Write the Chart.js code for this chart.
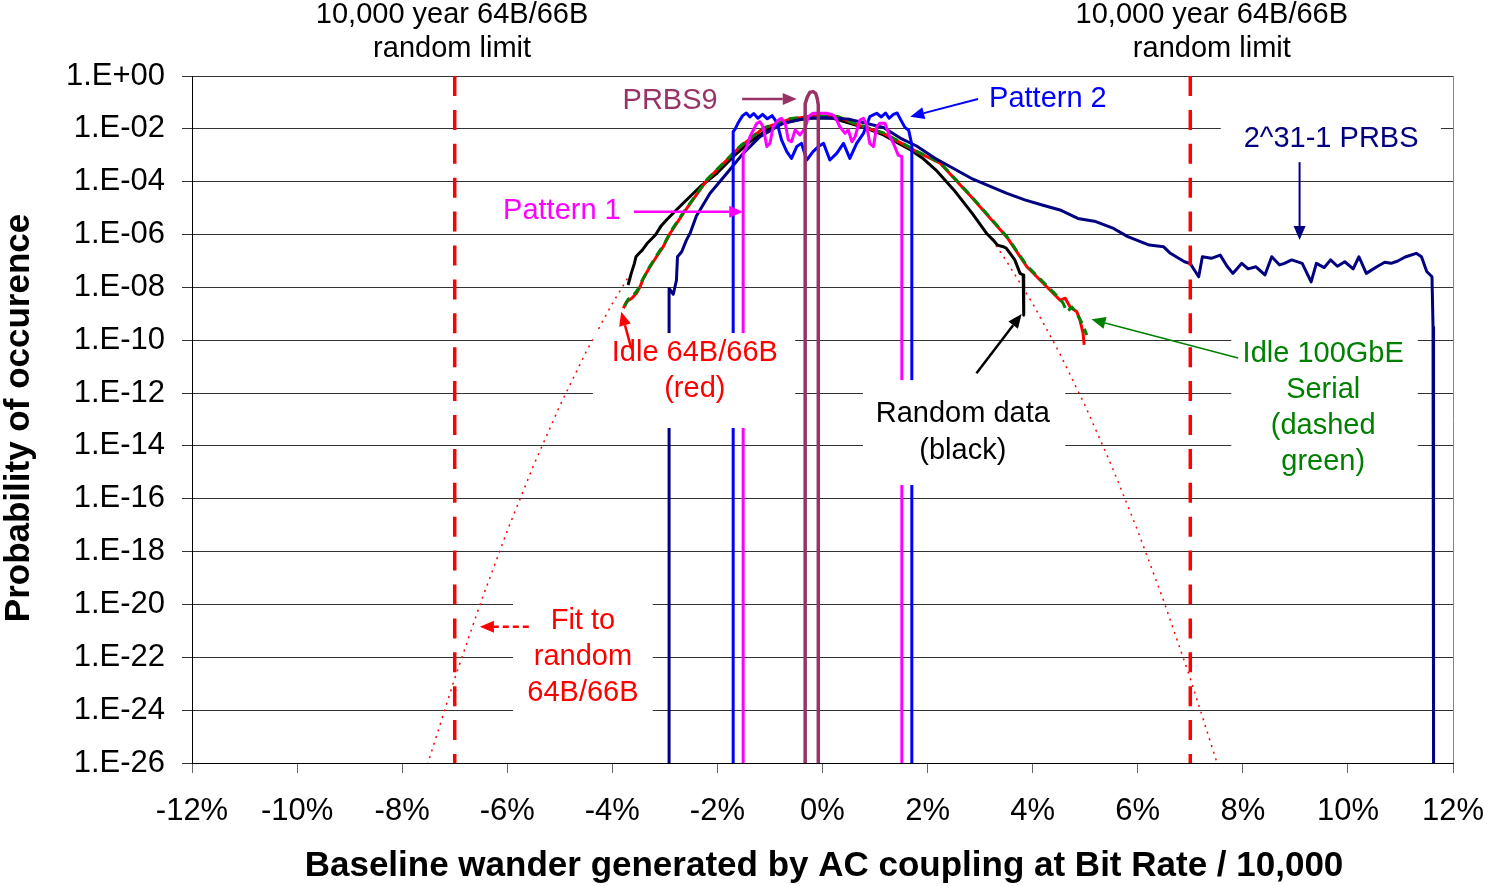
<!DOCTYPE html>
<html>
<head>
<meta charset="utf-8">
<script src="https://cdn.jsdelivr.net/npm/chart.js@4.4.1/dist/chart.umd.min.js"></script>
<style>
  html, body { margin: 0; padding: 0; background: #fff; }
  #wrap { width: 1488px; height: 886px; }
</style>
</head>
<body>
<div id="wrap"><canvas id="chart" width="1488" height="886"></canvas></div>
<script>
// x = baseline wander in %, values below are log10 of the probability
const xTicks = [-12, -10, -8, -6, -4, -2, 0, 2, 4, 6, 8, 10, 12];
const yTickExp = [0, -2, -4, -6, -8, -10, -12, -14, -16, -18, -20, -22, -24, -26];

const limitX = [-7, 7];
const limitExp = [0, -26];

const randomX = [-3.70, -3.64, -3.58, -3.55, -3.49, -3.43, -3.34, -3.18, -3.08, -2.97, -2.72, -2.33, -2.01, -1.70, -1.38, -1.06, -0.75, -0.43, -0.11, 0.20, 0.52, 0.84, 1.16, 1.45, 1.68, 1.90, 2.16, 2.50, 2.85, 3.12, 3.25, 3.33, 3.44, 3.50, 3.57, 3.66, 3.76, 3.82, 3.83];
const randomLog = [-7.91, -7.47, -7.09, -6.84, -6.71, -6.59, -6.34, -6.02, -5.70, -5.45, -4.95, -4.19, -3.68, -3.05, -2.49, -2.04, -1.79, -1.64, -1.58, -1.60, -1.79, -1.98, -2.23, -2.55, -2.80, -3.10, -3.56, -4.31, -5.20, -5.95, -6.21, -6.40, -6.46, -6.52, -6.71, -6.96, -7.47, -7.53, -9.05];

const idleX = [-3.79, -3.73, -3.63, -3.54, -3.47, -3.41, -3.32, -3.16, -3.03, -2.90, -2.65, -2.20, -1.57, -1.13, -0.62, -0.14, 0.30, 0.59, 1.16, 1.79, 2.24, 2.83, 3.51, 3.89, 4.14, 4.33, 4.52, 4.62, 4.71, 4.84, 4.90, 4.96, 4.98];
const idleLog = [-8.79, -8.54, -8.41, -8.22, -7.97, -7.66, -7.34, -6.84, -6.46, -5.95, -5.20, -3.94, -2.68, -1.98, -1.63, -1.51, -1.55, -1.79, -2.17, -2.86, -3.30, -4.57, -6.10, -7.22, -7.72, -8.10, -8.48, -8.41, -8.73, -8.92, -9.24, -9.74, -10.18];

const serialX = [-3.76, -3.70, -3.62, -3.52, -3.45, -3.38, -3.30, -3.16, -3.03, -2.90, -2.65, -2.20, -1.57, -1.13, -0.62, -0.14, 0.30, 0.59, 1.16, 1.79, 2.24, 2.83, 3.51, 3.89, 4.14, 4.33, 4.50, 4.58, 4.65, 4.75, 4.86, 4.95, 5.03];
const serialLog = [-8.70, -8.45, -8.35, -8.10, -7.80, -7.55, -7.25, -6.80, -6.42, -5.92, -5.17, -3.92, -2.66, -1.97, -1.62, -1.50, -1.54, -1.78, -2.15, -2.84, -3.28, -4.55, -6.08, -7.18, -7.68, -8.05, -8.40, -8.60, -8.92, -8.75, -9.05, -9.40, -9.80];

const prbs31X = [-2.92, -2.92, -2.84, -2.78, -2.76, -2.68, -2.59, -2.52, -2.40, -2.14, -1.82, -1.51, -1.19, -0.75, -0.30, 0.08, 0.52, 1.16, 1.48, 1.79, 2.15, 2.83, 3.51, 3.85, 4.18, 4.52, 4.86, 5.20, 5.54, 5.81, 6.22, 6.49, 6.62, 6.89, 7.00, 7.08, 7.16, 7.23, 7.40, 7.57, 7.70, 7.81, 7.98, 8.10, 8.25, 8.42, 8.55, 8.70, 8.79, 8.93, 9.13, 9.30, 9.40, 9.55, 9.67, 9.80, 9.94, 10.10, 10.21, 10.35, 10.55, 10.70, 10.82, 10.95, 11.09, 11.30, 11.40, 11.50, 11.60, 11.62, 11.63];
const prbs31Log = [-26, -8.04, -8.26, -7.73, -6.84, -6.65, -6.21, -5.95, -5.30, -4.44, -3.68, -2.93, -2.30, -1.79, -1.60, -1.58, -1.64, -1.95, -2.35, -2.65, -3.12, -3.87, -4.44, -4.69, -4.88, -5.07, -5.39, -5.51, -5.77, -6.08, -6.40, -6.46, -6.71, -7.03, -7.10, -7.35, -7.60, -6.84, -6.90, -6.78, -7.20, -7.47, -7.09, -7.30, -7.22, -7.53, -6.84, -7.15, -7.09, -6.96, -7.09, -7.79, -7.09, -7.25, -6.96, -7.20, -7.03, -7.30, -6.84, -7.47, -7.22, -7.05, -7.09, -7.00, -6.85, -6.71, -6.84, -7.40, -7.60, -9.50, -26];

const pattern2X = [-1.70, -1.70, -1.66, -1.61, -1.52, -1.45, -1.38, -1.31, -1.23, -1.14, -1.05, -0.96, -0.89, -0.84, -0.78, -0.68, -0.59, -0.49, -0.40, -0.30, -0.18, -0.08, 0.02, 0.14, 0.27, 0.40, 0.52, 0.65, 0.78, 0.90, 1.03, 1.12, 1.20, 1.27, 1.35, 1.42, 1.50, 1.57, 1.64, 1.70, 1.70];
const pattern2Log = [-26, -2.11, -2.00, -1.79, -1.50, -1.40, -1.55, -1.42, -1.60, -1.45, -1.62, -1.50, -1.70, -1.95, -2.42, -2.86, -3.12, -2.67, -2.55, -3.18, -2.86, -2.67, -2.55, -3.18, -2.93, -2.55, -3.12, -2.55, -2.17, -1.54, -1.41, -1.55, -1.40, -1.60, -1.45, -1.40, -1.70, -1.95, -2.05, -2.60, -26];

const pattern1X = [-1.51, -1.51, -1.44, -1.38, -1.25, -1.19, -1.13, -1.06, -1.00, -0.94, -0.84, -0.78, -0.71, -0.65, -0.59, -0.52, -0.43, -0.33, -0.27, -0.18, -0.05, 0.08, 0.21, 0.27, 0.33, 0.43, 0.49, 0.56, 0.62, 0.71, 0.78, 0.84, 0.90, 0.97, 1.03, 1.09, 1.19, 1.28, 1.35, 1.44, 1.51, 1.51];
const pattern1Log = [-26, -2.93, -2.67, -2.30, -1.79, -1.73, -1.92, -2.67, -2.55, -1.92, -1.67, -1.60, -1.79, -2.42, -2.49, -2.04, -2.23, -1.98, -1.54, -1.41, -1.41, -1.41, -1.48, -1.67, -1.92, -2.17, -2.04, -2.49, -2.30, -1.67, -1.60, -1.85, -2.55, -2.67, -1.92, -1.79, -1.79, -2.30, -2.55, -2.99, -3.05, -26];

const prbs9X = [-0.33, -0.33, -0.29, -0.24, -0.18, -0.13, -0.10, -0.08, -0.08];
const prbs9Log = [-26, -1.05, -0.80, -0.62, -0.59, -0.66, -0.85, -1.10, -26];

// dotted fit, hidden under the data in the middle
const fitX = [-7.60, -7.00, -6.50, -6.00, -5.50, -5.00, -4.50, -4.00, -3.70, 0, 3.30, 3.50, 4.00, 4.50, 5.00, 5.50, 6.00, 6.50, 7.00, 7.60];
const fitLog = [-26.57, -22.80, -19.90, -17.21, -14.74, -12.48, -10.44, -8.61, -7.62, null, -6.41, -7.00, -8.61, -10.44, -12.48, -14.74, -17.21, -19.90, -22.80, -26.57];

function pts(xs, es) {
  return xs.map((x, i) => ({ x: x, y: es[i] === null ? null : Math.pow(10, es[i]) }));
}

function expLabel(v) {
  const e = Math.round(Math.log10(v));
  return '1.E' + (e < 0 ? '-' : '+') + String(Math.abs(e)).padStart(2, '0');
}

const FONT = '"Liberation Sans", Arial, sans-serif';

// callouts, in data units (x %, log10 p)
const boxes = [
  { x0: -4.37, x1: -0.52, e0: -9.73, e1: -13.32 },
  { x0: 0.77, x1: 4.62, e0: -11.51, e1: -15.48 },
  { x0: 7.78, x1: 11.33, e0: -9.73, e1: -15.48 },
  { x0: -5.89, x1: -3.23, e0: -19.45, e1: -24.38 },
  { x0: 7.58, x1: 11.77, e0: -1.59, e1: -3.18 }
];

const notes = [
  { x: -7.05, e: 2.31, gap: 34, color: '#000000', lines: ['10,000 year 64B/66B', 'random limit'] },
  { x: 7.41, e: 2.31, gap: 34, color: '#000000', lines: ['10,000 year 64B/66B', 'random limit'] },
  { x: -2.90, e: -0.95, gap: 36, color: '#993366', lines: ['PRBS9'] },
  { x: 4.29, e: -0.87, gap: 36, color: '#0000FF', lines: ['Pattern 2'] },
  { x: 9.68, e: -2.38, gap: 36, color: '#000080', lines: ['2^31-1 PRBS'] },
  { x: -4.96, e: -5.11, gap: 36, color: '#FF00FF', lines: ['Pattern 1'] },
  { x: -2.43, e: -10.48, gap: 36, color: '#FF0000', lines: ['Idle 64B/66B', '(red)'] },
  { x: 2.67, e: -12.79, gap: 37, color: '#000000', lines: ['Random data', '(black)'] },
  { x: 9.53, e: -10.52, gap: 36, color: '#008000', lines: ['Idle 100GbE', 'Serial', '(dashed', 'green)'] },
  { x: -4.56, e: -20.63, gap: 36, color: '#FF0000', lines: ['Fit to', 'random', '64B/66B'] }
];

const arrows = [
  { x1: -1.53, e1: -0.87, x2: -0.49, e2: -0.87, color: '#993366', w: 2.5 },
  { x1: 2.96, e1: -0.87, x2: 1.67, e2: -1.54, color: '#0000FF', w: 2 },
  { x1: 9.08, e1: -3.26, x2: 9.08, e2: -6.21, color: '#000080', w: 2 },
  { x1: -3.59, e1: -5.14, x2: -1.51, e2: -5.14, color: '#FF00FF', w: 2.5 },
  { x1: -3.64, e1: -10.30, x2: -3.83, e2: -8.92, color: '#FF0000', w: 2.5 },
  { x1: 2.93, e1: -11.25, x2: 3.79, e2: -9.01, color: '#000000', w: 2.5 },
  { x1: 7.91, e1: -10.67, x2: 5.12, e2: -9.21, color: '#008000', w: 1.5 },
  { x1: -5.59, e1: -20.84, x2: -6.52, e2: -20.84, color: '#FF0000', w: 2.5, dash: [6, 4] }
];

function drawArrow(ctx, ax, ay, bx, by, color, w, dash) {
  const ang = Math.atan2(by - ay, bx - ax);
  const len = 14, half = 6;
  const ex = bx - Math.cos(ang) * len, ey = by - Math.sin(ang) * len;
  ctx.strokeStyle = color;
  ctx.fillStyle = color;
  ctx.lineWidth = w;
  ctx.setLineDash(dash || []);
  ctx.beginPath();
  ctx.moveTo(ax, ay);
  ctx.lineTo(ex, ey);
  ctx.stroke();
  ctx.setLineDash([]);
  ctx.beginPath();
  ctx.moveTo(bx, by);
  ctx.lineTo(ex - Math.sin(ang) * half, ey + Math.cos(ang) * half);
  ctx.lineTo(ex + Math.sin(ang) * half, ey - Math.cos(ang) * half);
  ctx.closePath();
  ctx.fill();
}

const callouts = {
  id: 'callouts',
  beforeDatasetsDraw(chart) {
    const { ctx, chartArea } = chart;
    ctx.save();
    ctx.strokeStyle = '#888';
    ctx.lineWidth = 1;
    ctx.beginPath();
    ctx.moveTo(chartArea.right + 0.5, chartArea.top);
    ctx.lineTo(chartArea.right + 0.5, chartArea.bottom);
    ctx.stroke();
    ctx.restore();
  },
  afterDatasetsDraw(chart) {
    const { ctx } = chart;
    const sx = chart.scales.x, sy = chart.scales.y;
    const X = v => sx.getPixelForValue(v);
    const Y = e => sy.getPixelForValue(Math.pow(10, e));
    ctx.save();

    ctx.fillStyle = '#ffffff';
    boxes.forEach(b => {
      const l = X(b.x0), r = X(b.x1), t = Y(b.e0), btm = Y(b.e1);
      ctx.fillRect(l, t, r - l, btm - t);
    });

    ctx.font = '29px ' + FONT;
    ctx.textAlign = 'center';
    ctx.textBaseline = 'middle';
    notes.forEach(n => {
      ctx.fillStyle = n.color;
      n.lines.forEach((s, i) => ctx.fillText(s, X(n.x), Y(n.e) + i * n.gap));
    });

    arrows.forEach(a => drawArrow(ctx, X(a.x1), Y(a.e1), X(a.x2), Y(a.e2), a.color, a.w, a.dash));

    // axis titles
    ctx.fillStyle = '#000';
    ctx.font = 'bold 35px ' + FONT;
    ctx.fillText('Baseline wander generated by AC coupling at Bit Rate / 10,000', 824, 866);
    ctx.translate(19, 418);
    ctx.rotate(-Math.PI / 2);
    ctx.fillText('Probability of occurence', 0, 0);
    ctx.restore();
  }
};

function line(label, xs, es, color, width, dash) {
  return {
    label: label,
    data: pts(xs, es),
    showLine: true,
    borderColor: color,
    backgroundColor: color,
    borderWidth: width,
    borderDash: dash || [],
    pointRadius: 0,
    tension: 0,
    spanGaps: false,
    borderJoinStyle: 'round'
  };
}

Chart.defaults.font.family = FONT;
Chart.defaults.color = '#000';

// first dataset is painted last (on top)
new Chart(document.getElementById('chart'), {
  type: 'scatter',
  data: {
    datasets: [
      line('limit -7%', [limitX[0], limitX[0]], limitExp, '#FF0000', 3.5, [20, 13.9]),
      line('limit +7%', [limitX[1], limitX[1]], limitExp, '#FF0000', 3.5, [20, 13.9]),
      line('PRBS9', prbs9X, prbs9Log, '#993366', 3.5),
      line('Pattern 1', pattern1X, pattern1Log, '#FF00FF', 3),
      line('Pattern 2', pattern2X, pattern2Log, '#0000FF', 3),
      line('2^31-1 PRBS', prbs31X, prbs31Log, '#000080', 3),
      line('Idle 100GbE Serial', serialX, serialLog, '#008000', 3, [9, 6]),
      line('Idle 64B/66B', idleX, idleLog, '#FF0000', 3),
      line('Random data', randomX, randomLog, '#000000', 3),
      line('Fit to random 64B/66B', fitX, fitLog, '#FF0000', 1.5, [2, 5])
    ]
  },
  options: {
    responsive: false,
    animation: false,
    events: [],
    layout: { padding: { top: 76, right: 35, left: 0, bottom: 0 } },
    plugins: { legend: { display: false }, tooltip: { enabled: false } },
    scales: {
      x: {
        type: 'linear',
        min: -12,
        max: 12,
        afterBuildTicks: s => { s.ticks = xTicks.map(v => ({ value: v })); },
        afterFit: s => { s.height = 123; s.paddingLeft = 0; s.paddingRight = 0; },
        ticks: { callback: v => v + '%', color: '#000', font: { size: 31 }, padding: 20, maxRotation: 0, autoSkip: false },
        grid: { drawOnChartArea: false, drawTicks: true, tickLength: 10, color: '#666' },
        border: { display: true, color: '#000', width: 1 }
      },
      y: {
        type: 'logarithmic',
        min: 1e-26,
        max: 1,
        afterBuildTicks: s => { s.ticks = yTickExp.map(e => ({ value: Math.pow(10, e) })); },
        afterFit: s => { s.width = 192; },
        ticks: { callback: v => expLabel(v), color: '#000', font: { size: 31 }, padding: 17, autoSkip: false },
        grid: { color: '#333', lineWidth: 1, tickLength: 10 },
        border: { display: true, color: '#000', width: 1 }
      }
    }
  },
  plugins: [callouts]
});
</script>
</body>
</html>
